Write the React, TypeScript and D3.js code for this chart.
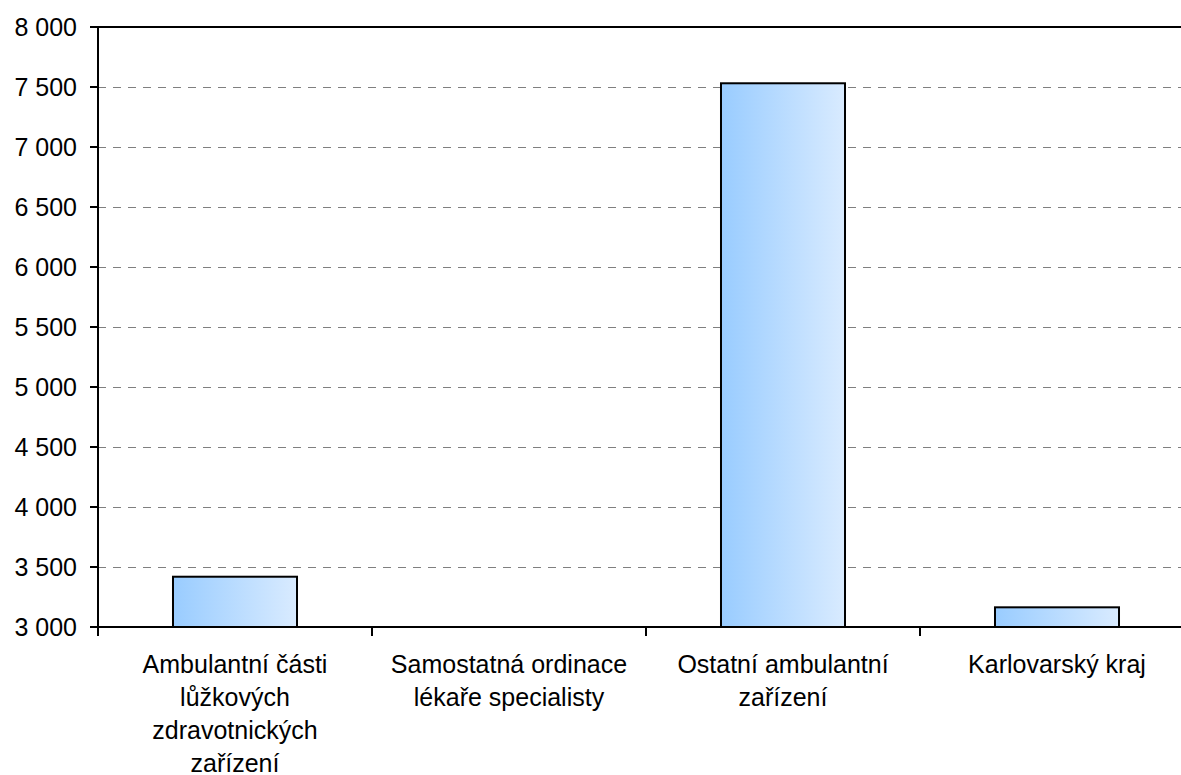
import React from 'react';
import * as d3 from 'd3';

const categories = [
  'Ambulantní části lůžkových zdravotnických zařízení',
  'Samostatná ordinace lékaře specialisty',
  'Ostatní ambulantní zařízení',
  'Karlovarský kraj',
];
const categoryLines = [
  ['Ambulantní části', 'lůžkových', 'zdravotnických', 'zařízení'],
  ['Samostatná ordinace', 'lékaře specialisty'],
  ['Ostatní ambulantní', 'zařízení'],
  ['Karlovarský kraj'],
];
const values = [3419, 2850, 7531, 3164];
const yTicks = [3000, 3500, 4000, 4500, 5000, 5500, 6000, 6500, 7000, 7500, 8000];

const W = 1181;
const H = 775;
const FONT = '"Liberation Sans", Arial, sans-serif';

export default function App() {
  const left = 98;
  const top = 27;
  const bottom = 627;
  const right = 1194;
  const x = d3.scaleBand<string>().domain(categories).range([left, right]).padding(0);
  const y = d3.scaleLinear().domain([yTicks[0], yTicks[yTicks.length - 1]]).range([bottom, top]);
  const barW = x.bandwidth() * 0.4526;
  const fmt = (v: number) => d3.format(',')(v).replace(/,/g, ' ');
  const y0 = y.domain()[0];

  return (
    <svg width={W} height={H} style={{ position: 'absolute', left: 0, top: 0, background: '#fff' }}>
      <defs>
        <linearGradient id="barGrad" x1="0" y1="0" x2="1" y2="0">
          <stop offset="0" stopColor="#99CCFF" />
          <stop offset="1" stopColor="#D9EBFF" />
        </linearGradient>
      </defs>
      <rect x={0} y={0} width={W} height={H} fill="#fff" />
      {/* gridlines */}
      {yTicks.slice(1, -1).map((t) => (
        <line
          key={t}
          x1={left}
          x2={right}
          y1={Math.round(y(t)) + 0.5}
          y2={Math.round(y(t)) + 0.5}
          stroke="#808080"
          strokeWidth={1}
          strokeDasharray="8,7"
          shapeRendering="crispEdges"
        />
      ))}
      {/* bars */}
      {categories.map((c, i) => {
        const v = values[i];
        if (v <= y0) return null;
        const bx = (x(c) as number) + (x.bandwidth() - barW) / 2;
        return (
          <rect key={c} x={bx} y={y(v)} width={barW} height={y(y0) - y(v)} fill="url(#barGrad)" stroke="#000" strokeWidth={2} />
        );
      })}
      {/* top border */}
      <line x1={left} x2={right} y1={top} y2={top} stroke="#000" strokeWidth={2} />
      <line x1={right} x2={right} y1={top} y2={bottom} stroke="#000" strokeWidth={2} />
      {/* y axis */}
      <line x1={left} x2={left} y1={top - 1} y2={bottom + 1} stroke="#000" strokeWidth={2} />
      {yTicks.map((t) => (
        <g key={t}>
          <line x1={left - 8} x2={left} y1={y(t)} y2={y(t)} stroke="#000" strokeWidth={2} />
          <text x={77} y={y(t)} dy="0.35em" textAnchor="end" fontFamily={FONT} fontSize={25} fill="#000">
            {fmt(t)}
          </text>
        </g>
      ))}
      {/* x axis */}
      <line x1={left - 8} x2={right} y1={bottom} y2={bottom} stroke="#000" strokeWidth={2} />
      {categories.map((c) => (
        <line key={'t' + c} x1={x(c) as number} x2={x(c) as number} y1={bottom} y2={bottom + 9} stroke="#000" strokeWidth={2} />
      ))}
      {categories.map((c, i) => {
        const cx = (x(c) as number) + x.bandwidth() / 2;
        return (
          <text key={'l' + c} textAnchor="middle" fontFamily={FONT} fontSize={25} fill="#000">
            {categoryLines[i].map((ln, j) => (
              <tspan key={j} x={cx} y={673 + j * 33}>
                {ln}
              </tspan>
            ))}
          </text>
        );
      })}
    </svg>
  );
}
